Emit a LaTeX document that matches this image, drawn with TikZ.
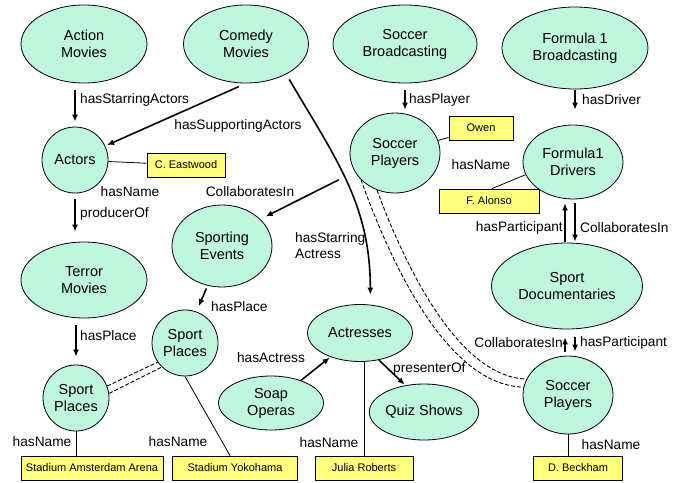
\documentclass[tikz,border=0pt]{standalone}
\usepackage{fontspec}
\setmainfont{Liberation Sans}
\usetikzlibrary{shapes.geometric,arrows.meta,calc}

\definecolor{classfill}{RGB}{192,246,222}
\definecolor{namefill}{RGB}{255,255,128}

\tikzset{
  ClassStyle/.style={ellipse, draw, line width=0.8pt, fill=classfill, inner sep=0pt, align=center, font=\fontsize{14.5}{17}\selectfont},
  NameStyle/.style={rectangle, draw, line width=0.8pt, fill=namefill, minimum height=24pt, inner sep=2pt, font=\fontsize{11}{13}\selectfont},
  LabelStyle/.style={inner sep=0pt, font=\fontsize{13.7}{16}\selectfont},
  EdgeStyle/.style={line width=1.6pt, -{Latex[length=7pt,width=6pt]}},
  LinkStyle/.style={line width=0.8pt},
  SameStyle/.style={line width=0.9pt, dash pattern=on 4pt off 2pt}
}

\begin{document}
\begin{tikzpicture}[x=1pt,y=-1pt]

\useasboundingbox (0,0) rectangle (682,482);

\node[ClassStyle, minimum width=126pt, minimum height=78pt] (action) at (84,44) {Action\\Movies};
\node[ClassStyle, minimum width=125pt, minimum height=78pt] (comedy) at (246,44) {Comedy\\Movies};
\node[ClassStyle, minimum width=144pt, minimum height=78pt] (soccerB) at (405,44) {Soccer\\Broadcasting};
\node[ClassStyle, minimum width=146pt, minimum height=82pt] (formulaB) at (575,48) {Formula 1\\Broadcasting};
\node[ClassStyle, minimum size=66pt] (actors) at (75,160) {Actors};
\node[ClassStyle, minimum width=90pt, minimum height=80pt] (soccerT) at (395,153) {Soccer\\Players};
\node[ClassStyle, minimum width=100pt, minimum height=74pt] (formulaD) at (573,162) {Formula1\\Drivers};
\node[ClassStyle, minimum width=100pt, minimum height=82pt] (sporting) at (222,246) {Sporting\\Events};
\node[ClassStyle, minimum width=126pt, minimum height=76pt] (terror) at (84,280) {Terror\\Movies};
\node[ClassStyle, minimum width=151pt, minimum height=86pt] (documentary) at (567,286) {Sport\\Documentaries};
\node[ClassStyle, minimum size=66pt] (placeM) at (185,343) {Sport\\Places};
\node[ClassStyle, minimum width=105pt, minimum height=57pt] (actresses) at (360,333) {Actresses};
\node[ClassStyle, minimum size=66pt] (placeL) at (76,398) {Sport\\Places};
\node[ClassStyle, minimum width=105pt, minimum height=54pt] (soap) at (271,403) {Soap\\Operas};
\node[ClassStyle, minimum width=105pt, minimum height=56pt] (quiz) at (424,412) {Quiz Shows};
\node[ClassStyle, minimum width=90pt, minimum height=78pt] (soccerP) at (568,395) {Soccer\\Players};

\node[NameStyle, minimum width=78pt] (eastwood) at (186,165) {C. Eastwood};
\node[NameStyle, minimum width=64pt] (owen) at (481,128) {Owen};
\node[NameStyle, minimum width=100pt] (alonso) at (489,201) {F. Alonso};
\node[NameStyle, minimum width=142pt] (amsterdam) at (92,468) {Stadium Amsterdam Arena};
\node[NameStyle, minimum width=125pt] (yokohama) at (235,468) {Stadium Yokohama};
\node[NameStyle, minimum width=98pt] (julia) at (364,468) {Julia Roberts};
\node[NameStyle, minimum width=89pt] (beckham) at (578,468) {D. Beckham};

\draw[EdgeStyle, shorten <=7pt, shorten >=5pt] (actors |- action.south) -- (actors.north);
\draw[EdgeStyle, shorten <=8pt, shorten >=2pt] (comedy.south) -- (actors.25);
\draw[EdgeStyle, shorten <=6pt, shorten >=10pt] (actors.south) -- (actors |- terror.north);
\draw[EdgeStyle, shorten <=7pt, shorten >=8pt] (placeL |- terror.south) -- (placeL.north);
\draw[EdgeStyle, shorten <=18pt, shorten >=6pt] (soccerT.205) -- (sporting.35);
\draw[EdgeStyle, shorten <=3pt, shorten >=6pt] (sporting.250) -- (placeM.70);
\draw[EdgeStyle, shorten <=7pt, shorten >=3pt] (soccerB.south) -- (soccerB.south |- soccerT.north);
\draw[EdgeStyle, shorten <=1pt, shorten >=15pt] (formulaB.south) -- (formulaB.south |- formulaD.north);
\draw[EdgeStyle, shorten <=1pt, shorten >=4pt] ($(documentary.north -| formulaD.south)+(-8,0)$) -- ($(formulaD.south)+(-8,0)$);
\draw[EdgeStyle, shorten <=4pt, shorten >=1pt] ($(formulaD.south)+(2,0)$) -- ($(documentary.north -| formulaD.south)+(2,0)$);
\draw[EdgeStyle, shorten <=4pt, shorten >=8pt] ($(soccerP.north)+(-3,0)$) -- ($(soccerP.north |- documentary.south)+(-3,0)$);
\draw[EdgeStyle, shorten <=8pt, shorten >=4pt] ($(soccerP.north |- documentary.south)+(7,0)$) -- ($(soccerP.north)+(7,0)$);
\draw[EdgeStyle, shorten <=6pt, shorten >=10pt] (comedy.323) .. controls +(50,85) and +(0,-100) .. (actresses.70);
\draw[EdgeStyle, shorten >=1pt] (soap.37) -- (actresses.219);
\draw[EdgeStyle, shorten >=1pt] (actresses.305) -- (quiz.125);

\draw[LinkStyle] (actors) -- (eastwood);
\draw[LinkStyle] (soccerT) -- (owen);
\draw[LinkStyle] (formulaD.195) -- ([xshift=3pt]alonso.north);
\draw[LinkStyle] (actresses.south -| julia.north) -- (julia.north);
\draw[LinkStyle] (placeL.south) -- (placeL.south |- amsterdam.north);
\draw[LinkStyle] (placeM.south) -- ([xshift=-5pt]yokohama.north);
\draw[LinkStyle] (soccerP.south) -- (soccerP.south |- beckham.north);

\draw[SameStyle] (placeL.21) -- (placeM.215);
\draw[SameStyle] (placeL.8) -- (placeM.226);
\draw[SameStyle] (soccerT.218) .. controls +(28,78) and +(-78,-2) .. (soccerP.170);
\draw[SameStyle] (soccerT.244) .. controls +(26,70) and +(-70,-2) .. (soccerP.159);

\node[LabelStyle, anchor=west] (lblStarringActors) at (80,100) {hasStarringActors};
\node[LabelStyle] (lblSupporting) at (238,126) {hasSupportingActors};
\node[LabelStyle] (lblNameActors) at (130,192) {hasName};
\node[LabelStyle, anchor=west] (lblProducer) at (80,214) {producerOf};
\node[LabelStyle] (lblCollabEvents) at (250,192) {CollaboratesIn};
\node[LabelStyle, anchor=west, align=left] (lblStarringActress) at (295,246) {hasStarring\\Actress};
\node[LabelStyle, anchor=west] (lblPlaceTerror) at (80,336) {hasPlace};
\node[LabelStyle, anchor=west] (lblPlaceEvents) at (211,307) {hasPlace};
\node[LabelStyle] (lblActress) at (271,358) {hasActress};
\node[LabelStyle, anchor=west] (lblPresenter) at (393,369) {presenterOf};
\node[LabelStyle] (lblNameL) at (42,442) {hasName};
\node[LabelStyle] (lblNameM) at (178,442) {hasName};
\node[LabelStyle] (lblNameJulia) at (329,443) {hasName};
\node[LabelStyle] (lblNameBeckham) at (611,445) {hasName};
\node[LabelStyle, anchor=west] (lblPlayer) at (409,100) {hasPlayer};
\node[LabelStyle, anchor=west] (lblDriver) at (582,100) {hasDriver};
\node[LabelStyle] (lblNameOwen) at (481,165) {hasName};
\node[LabelStyle, anchor=east] (lblParticipantTop) at (563,228) {hasParticipant};
\node[LabelStyle, anchor=west] (lblCollabTop) at (580,228) {CollaboratesIn};
\node[LabelStyle, anchor=east] (lblCollabBottom) at (563,343) {CollaboratesIn};
\node[LabelStyle, anchor=west] (lblParticipantBottom) at (580,343) {hasParticipant};

\end{tikzpicture}
\end{document}
